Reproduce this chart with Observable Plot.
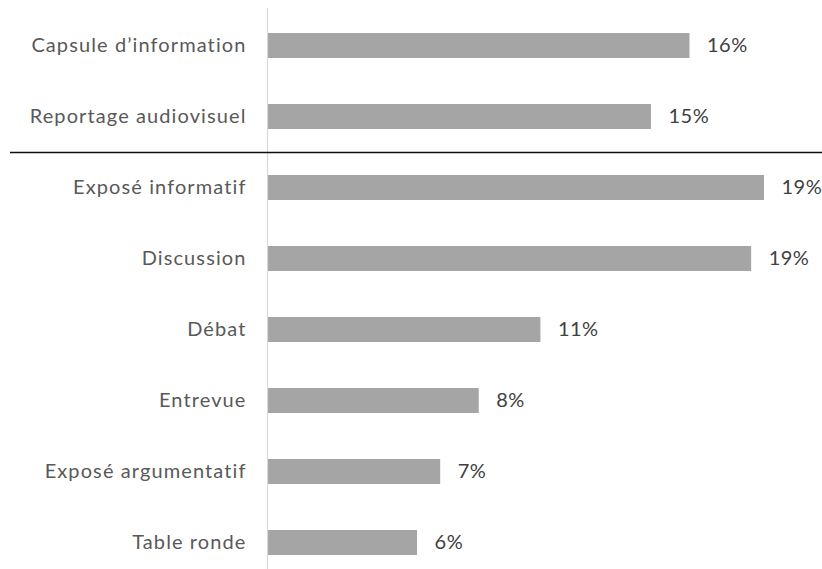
<!DOCTYPE html>
<html>
<head>
<meta charset="utf-8">
<script src="https://cdn.jsdelivr.net/npm/d3@7"></script>
<script src="https://cdn.jsdelivr.net/npm/@observablehq/plot@0.6"></script>
<style>
  html, body { margin: 0; padding: 0; background: #ffffff; }
  g[aria-label="y-axis tick label"] text { letter-spacing: 1.1px; }
  g.value-labels text { letter-spacing: 0.5px; }
</style>
</head>
<body>
<div id="chart"></div>
<script>
const categories = [
  "Capsule d’information",
  "Reportage audiovisuel",
  "Exposé informatif",
  "Discussion",
  "Débat",
  "Entrevue",
  "Exposé argumentatif",
  "Table ronde"
];
const values = [16.4, 14.9, 19.3, 18.8, 10.6, 8.2, 6.7, 5.8];
const separatorAfter = "Reportage audiovisuel";

const data = categories.map((c, i) => ({category: c, value: values[i]}));
const fmt = d3.format(".0%");
const font = "Lato, 'Open Sans', sans-serif";

const plot = Plot.plot({
  width: 822,
  height: 569,
  marginLeft: 268,
  marginRight: 40,
  marginTop: 8,
  marginBottom: 0,
  style: {fontFamily: font, fontSize: "20px", background: "#ffffff", overflow: "visible"},
  x: {domain: [0, 20], axis: null},
  y: {domain: categories, range: [8.25, 580.25], paddingInner: 0.65, paddingOuter: 0.325, axis: null},
  marks: [
    Plot.barX(data, {x: "value", y: "category", fill: "#a5a5a5"}),
    Plot.ruleX([0], {stroke: "#d9d9d9", strokeWidth: 1.2, dx: -1}),
    Plot.axisY({tickSize: 0, tickPadding: 22, fontSize: 20, fill: "#595959", label: null}),
    Plot.text(data, {
      x: "value", y: "category", text: d => fmt(d.value / 100),
      textAnchor: "start", dx: 17, fontSize: 20, fill: "#404040", className: "value-labels"
    })
  ]
});

const ys = plot.scale("y");
const yLine = Math.round(ys.apply(separatorAfter) + ys.bandwidth + (ys.step - ys.bandwidth) / 2) + 0.5;
d3.select(plot).append("line")
  .attr("x1", 10).attr("x2", 822)
  .attr("y1", yLine).attr("y2", yLine)
  .attr("stroke", "#0d0d0d").attr("stroke-width", 1.4);

document.getElementById("chart").appendChild(plot);
</script>
</body>
</html>
